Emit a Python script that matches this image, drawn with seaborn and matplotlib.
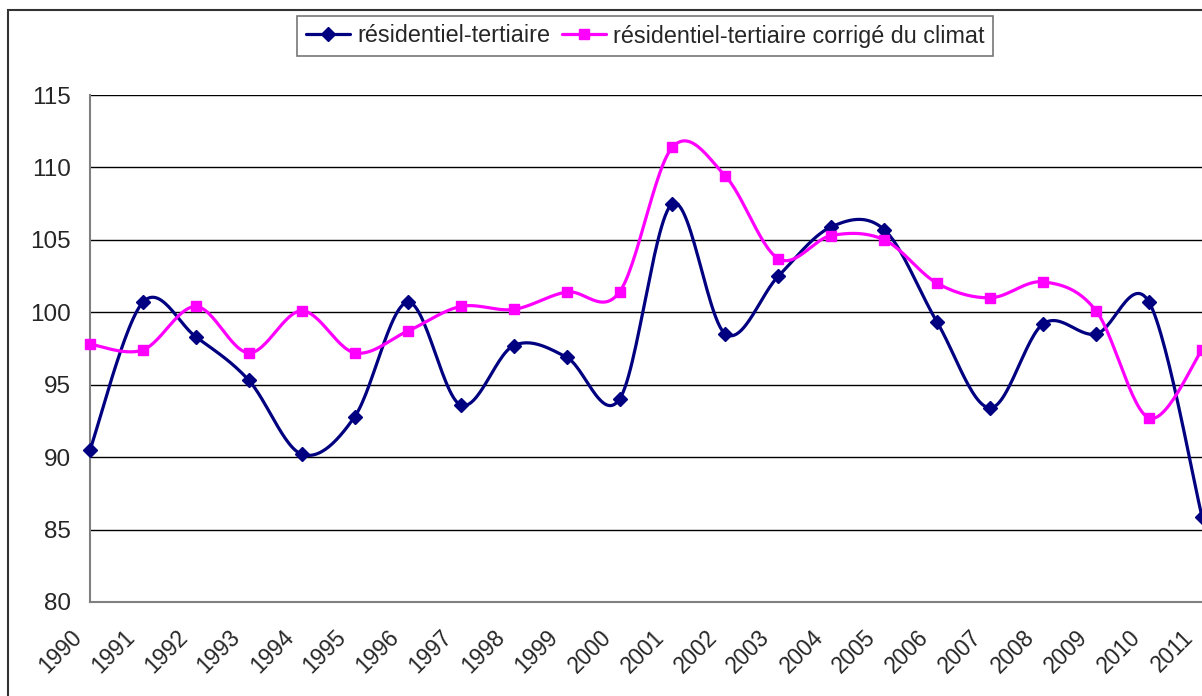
import numpy as np
import pandas as pd
import matplotlib
matplotlib.use("Agg")
import matplotlib.pyplot as plt
import matplotlib.transforms as mtransforms
import seaborn as sns
from matplotlib.lines import Line2D
from matplotlib.patches import Rectangle

years = list(range(1990, 2012))
residentiel = [90.5, 100.7, 98.3, 95.3, 90.2, 92.8, 100.7, 93.6, 97.7, 96.9, 94.0,
               107.5, 98.5, 102.5, 105.9, 105.7, 99.3, 93.4, 99.2, 98.5, 100.7, 85.9]
corrige = [97.8, 97.4, 100.4, 97.2, 100.1, 97.2, 98.7, 100.4, 100.2, 101.4, 101.4,
           111.4, 109.4, 103.7, 105.3, 105.0, 102.0, 101.0, 102.1, 100.1, 92.7, 97.4]
labels = ['résidentiel-tertiaire', 'résidentiel-tertiaire corrigé du climat']
colors = ['#000080', '#FF00FF']
markers = ['D', 's']


def smooth(xs, ys, n=30):
    # excel-style smoothed line (bezier through points, catmull-rom controls)
    x = np.asarray(xs, float)
    y = np.asarray(ys, float)
    px = np.concatenate([[x[0]], x, [x[-1]]])
    py = np.concatenate([[y[0]], y, [y[-1]]])
    out_x, out_y = [], []
    t = np.linspace(0, 1, n)
    for i in range(1, len(px) - 2):
        p0 = np.array([px[i], py[i]])
        p3 = np.array([px[i + 1], py[i + 1]])
        c1 = p0 + (p3 - np.array([px[i - 1], py[i - 1]])) / 6
        c2 = p3 - (np.array([px[i + 2], py[i + 2]]) - p0) / 6
        b = ((1 - t) ** 3)[:, None] * p0 + (3 * (1 - t) ** 2 * t)[:, None] * c1 \
            + (3 * (1 - t) * t ** 2)[:, None] * c2 + (t ** 3)[:, None] * p3
        out_x.extend(b[:, 0])
        out_y.extend(b[:, 1])
    return np.array(out_x), np.array(out_y)


sns.set_style("white")
plt.rcParams['font.family'] = ['Liberation Sans', 'DejaVu Sans']

fig = plt.figure(figsize=(12.02, 6.96), dpi=100)
fig.patches.append(Rectangle((8 / 1202, -0.1), 1.2, 1 - 10 / 696 + 0.1,
                             transform=fig.transFigure, fill=False,
                             edgecolor='#333333', linewidth=1.5))

ax = fig.add_axes([90 / 1202, 94 / 696, 1112 / 1202, 507 / 696])
ax.set_facecolor('white')

for series, col, mk in zip([residentiel, corrige], colors, markers):
    sx, sy = smooth(years, series)
    df = pd.DataFrame({'x': sx, 'y': sy})
    sns.lineplot(data=df, x='x', y='y', sort=False, color=col, linewidth=2.3,
                 ax=ax, clip_on=True)
    ax.plot(years, series, linestyle='none', marker=mk, color=col,
            markersize=7 if mk == 'D' else 7.5, clip_on=False, zorder=4)

ax.set_xlim(1990, 2011)
ax.set_ylim(80, 115)
ax.set_yticks(range(80, 116, 5))
ax.set_xticks(years)
ax.set_xticklabels([])

# year labels drawn by hand so they can sit down-left of each tick like excel
shift = mtransforms.ScaledTranslation(-12 / 100, -32 / 100, fig.dpi_scale_trans)
for yr in years:
    ax.text(yr, 80, str(yr), rotation=45, rotation_mode='anchor', ha='right',
            va='center', fontsize=16.3, transform=ax.transData + shift, clip_on=False)

ax.tick_params(axis='y', labelsize=17.5, length=6, width=1, color='#808080',
               direction='out', pad=8)
ax.tick_params(axis='x', length=7, width=1, color='#808080', direction='out')
ax.yaxis.grid(True, color='black', linewidth=1)
ax.set_axisbelow(True)
ax.set_xlabel('')
ax.set_ylabel('')
for side in ['top', 'right']:
    ax.spines[side].set_visible(False)
for side in ['left', 'bottom']:
    ax.spines[side].set_color('#808080')
    ax.spines[side].set_linewidth(1.5)

handles = [Line2D([0], [0], color=c, linewidth=2.3, marker=m, markersize=7)
           for c, m in zip(colors, markers)]
leg = fig.legend(handles, labels, loc='center', bbox_to_anchor=(645 / 1202, 1 - 36 / 696),
                 ncol=2, fontsize=16.8, frameon=True, fancybox=False,
                 handlelength=1.9, handletextpad=0.3, columnspacing=0.5,
                 borderpad=0.35)
leg.get_frame().set_edgecolor('#555555')
leg.get_frame().set_linewidth(1.2)

fig.savefig('out.png', dpi=100)
